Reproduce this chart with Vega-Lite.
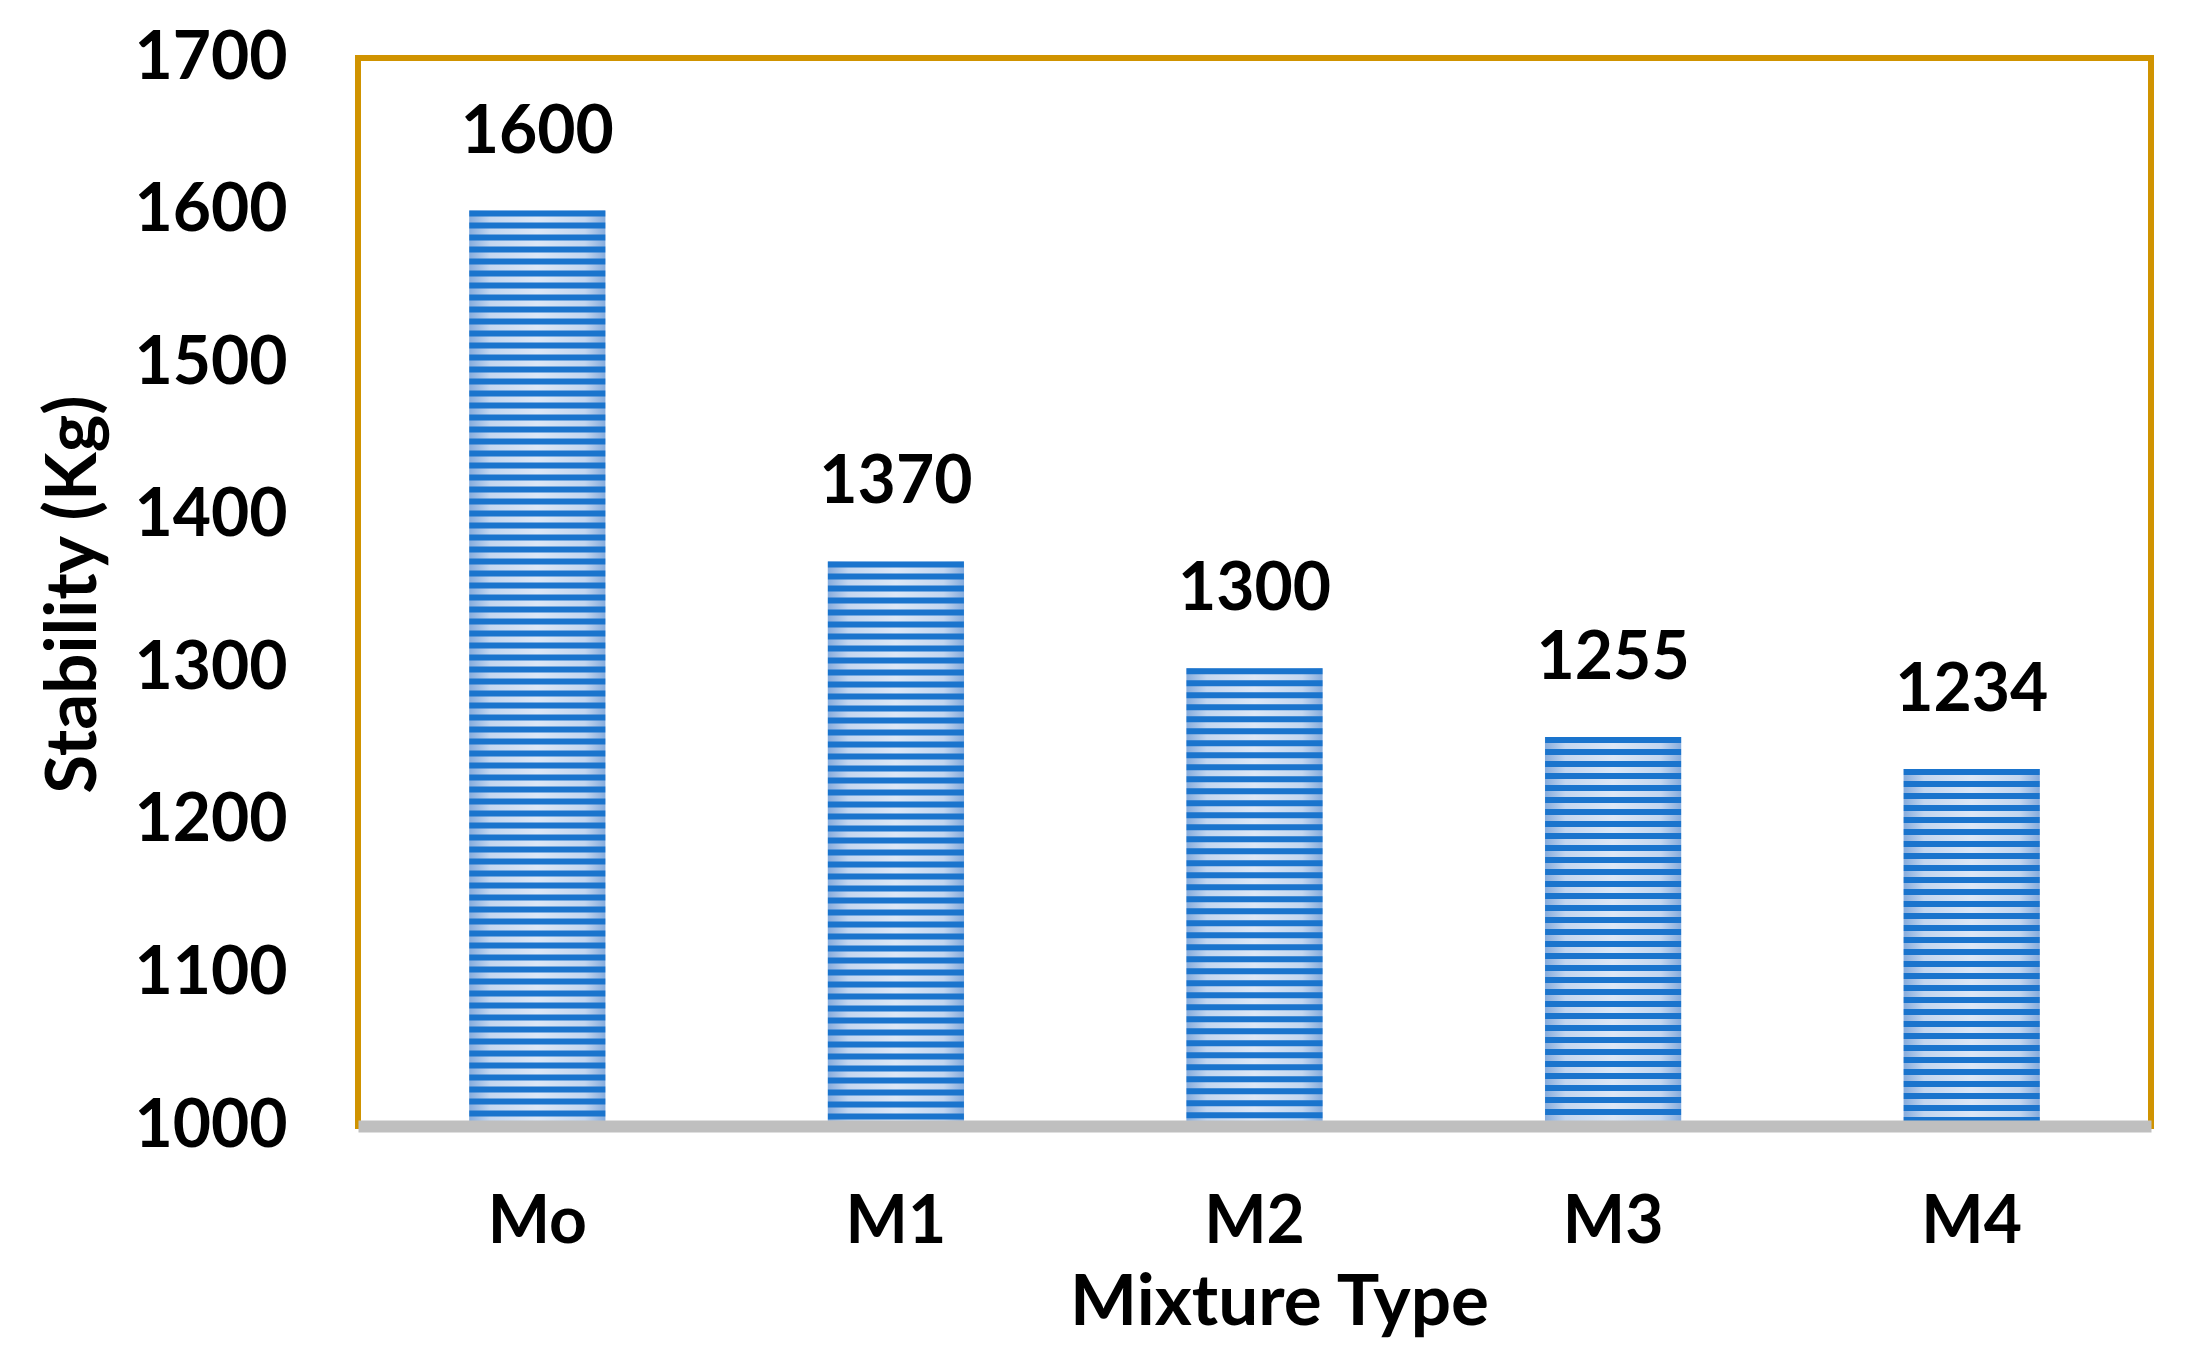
{
  "$schema": "https://vega.github.io/schema/vega-lite/v6.json",
  "width": 1793,
  "height": 1068,
  "autosize": "none",
  "padding": {"left": 358, "top": 58, "right": 36, "bottom": 244},
  "background": "white",
  "config": {
    "view": {"stroke": "#D09300", "strokeWidth": 6},
    "font": "Lato"
  },
  "data": {
    "values": [
      {"Type": "Mo", "Stability": 1600},
      {"Type": "M1", "Stability": 1370},
      {"Type": "M2", "Stability": 1300},
      {"Type": "M3", "Stability": 1255},
      {"Type": "M4", "Stability": 1234}
    ]
  },
  "encoding": {
    "x": {
      "field": "Type",
      "type": "nominal",
      "sort": null,
      "scale": {"paddingInner": 0.62, "paddingOuter": 0.31},
      "axis": {
        "title": "Mixture Type",
        "labelAngle": 0,
        "domainColor": "#BFBFBF",
        "domainWidth": 12,
        "ticks": false,
        "tickSize": 0,
        "labelFontSize": 66,
        "labelFontWeight": "bold",
        "labelColor": "black",
        "labelBaseline": "alphabetic",
        "labelPadding": 116,
        "titleFontSize": 71,
        "titleFontWeight": "bold",
        "titleColor": "black",
        "titleX": 921,
        "titleY": 198,
        "titleBaseline": "alphabetic",
        "titleAlign": "center",
        "zindex": 1
      }
    },
    "y": {
      "field": "Stability",
      "type": "quantitative",
      "scale": {"domain": [1000, 1700], "nice": false, "zero": false},
      "axis": {
        "title": "Stability (Kg)",
        "values": [1000, 1100, 1200, 1300, 1400, 1500, 1600, 1700],
        "format": "d",
        "domain": false,
        "ticks": false,
        "tickSize": 0,
        "grid": false,
        "labelFontSize": 66,
        "labelFontWeight": "bold",
        "labelColor": "black",
        "labelPadding": 71,
        "labelBaseline": "middle",
        "titleFontSize": 71,
        "titleFontWeight": "bold",
        "titleColor": "black",
        "titleAngle": -90,
        "titleX": -263,
        "titleY": 536,
        "titleBaseline": "alphabetic",
        "titleAlign": "center"
      }
    }
  },
  "layer": [
    {
      "mark": {
        "type": "bar",
        "fill": {
          "gradient": "linear",
          "x1": 0, "y1": 0, "x2": 1, "y2": 0,
          "stops": [
            {"offset": 0, "color": "#86ACDD"},
            {"offset": 0.15, "color": "#C3D6EF"},
            {"offset": 0.5, "color": "#DCE7F6"},
            {"offset": 0.85, "color": "#C3D6EF"},
            {"offset": 1, "color": "#86ACDD"}
          ]
        }
      },
      "encoding": {"y2": {"datum": 1000}}
    },
    {
      "mark": {
        "type": "rule",
        "stroke": "#1A74CD",
        "strokeWidth": 136,
        "strokeDash": [6, 6],
        "strokeCap": "butt"
      },
      "encoding": {"y2": {"datum": 1000}}
    },
    {
      "mark": {
        "type": "text",
        "dy": -58,
        "baseline": "alphabetic",
        "fontSize": 66,
        "fontWeight": "bold",
        "color": "black"
      },
      "encoding": {"text": {"field": "Stability", "type": "quantitative", "format": "d"}}
    }
  ]
}
